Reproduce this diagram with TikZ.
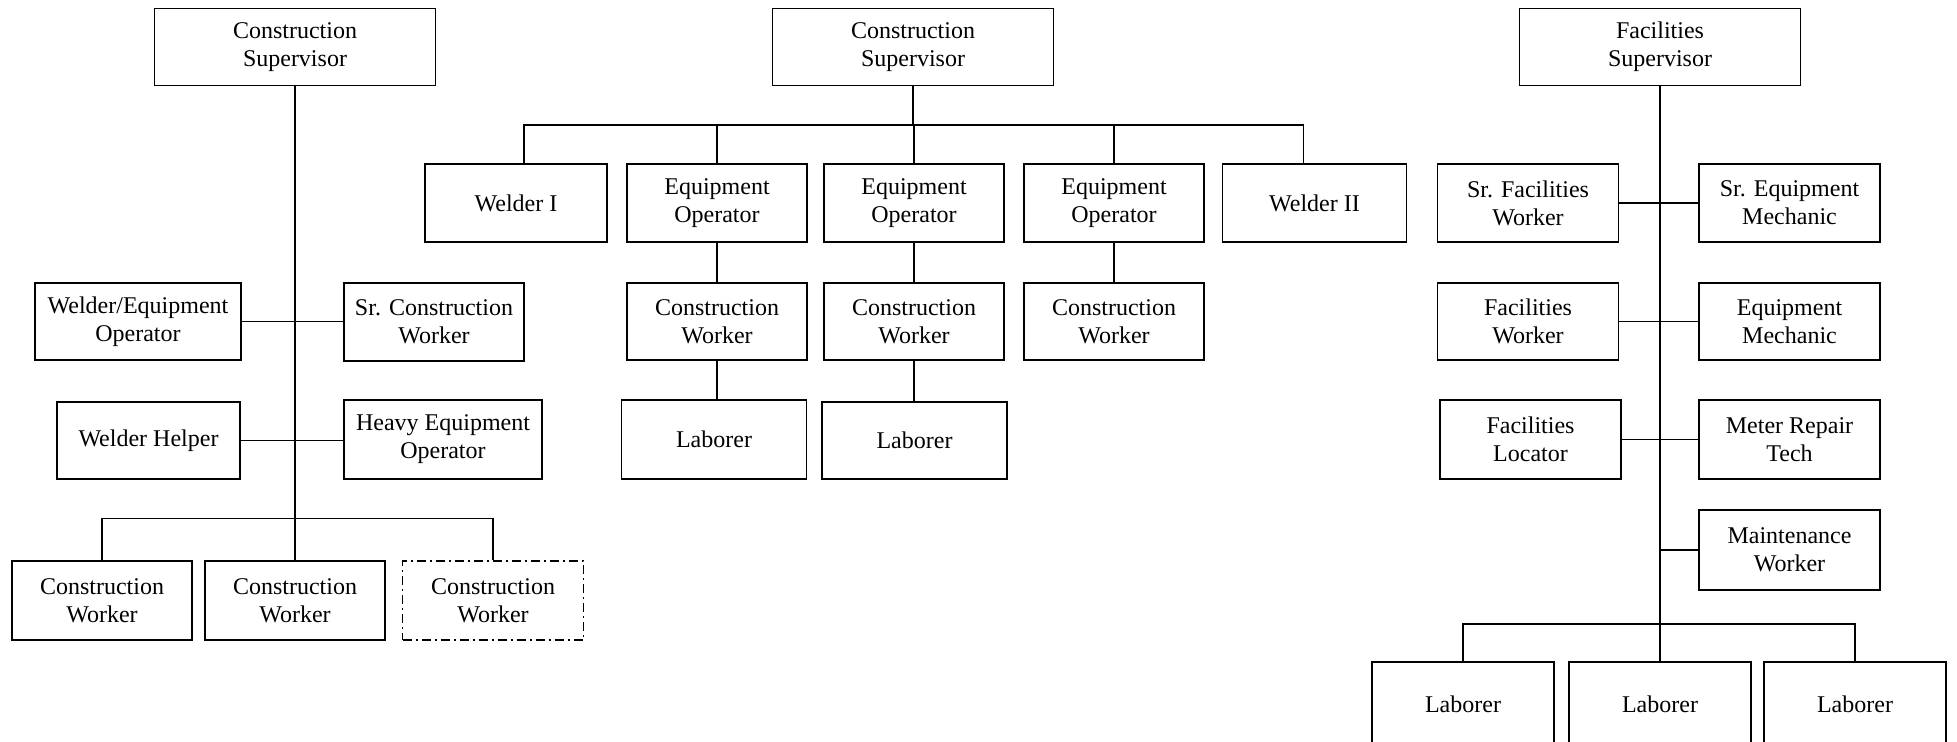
\documentclass[tikz,border=0pt]{standalone}
\usepackage{fontspec}
\setmainfont{Liberation Serif}
\tikzset{
  bx/.style={draw, line width=0.9pt, inner sep=0pt, align=center, fill=white,
             font=\fontsize{12}{14}\selectfont},
  wh/.style 2 args={minimum width=#1*0.5pt, minimum height=#2*0.5pt},
  ln/.style={line width=0.9pt},
  dashdotbox/.style={dash pattern=on 4.5pt off 2pt on 1pt off 2pt}
}
\begin{document}
\begin{tikzpicture}[x=0.5pt, y=-0.5pt]
\useasboundingbox[fill=white] (0,0) rectangle (1957,741);

% ---------- left group ----------
\node[bx, wh={281}{77}] (cs1) at (295,47) {Construction\\Supervisor};
\node[bx, wh={206}{77}] (weo) at (138,321.5) {Welder/Equipment\\Operator};
\node[bx, wh={180}{78}] (scw) at (434,322) {Sr. Construction\\Worker};
\node[bx, wh={183}{77}] (whp) at (148.5,440.5) {Welder Helper};
\node[bx, wh={198}{79}] (heo) at (443,439.5) {Heavy Equipment\\Operator};
\node[bx, wh={180}{79}] (cw1) at (102,600.5) {Construction\\Worker};
\node[bx, wh={180}{79}] (cw2) at (295,600.5) {Construction\\Worker};
\node[bx, dashdotbox, wh={181}{79}] (cw3) at (493,600.5) {Construction\\Worker};
\coordinate (lb) at (295,518.5);

\draw[ln] (cs1.south) -- (cw2.north);
\draw[ln] (weo.east) -- (weo.east -| scw.west);
\draw[ln] (whp.east) -- (whp.east -| heo.west);
\draw[ln] (cw1.north) |- (lb) -| (cw3.north);

% ---------- middle group ----------
\node[bx, wh={281}{77}] (cs2) at (913,47) {Construction\\Supervisor};
\node[bx, wh={182}{78}] (wi) at (516,203) {Welder I};
\node[bx, wh={180}{78}] (eo1) at (717,203) {Equipment\\Operator};
\node[bx, wh={180}{78}] (eo2) at (914,203) {Equipment\\Operator};
\node[bx, wh={180}{78}] (eo3) at (1114,203) {Equipment\\Operator};
\node[bx, wh={184}{78}] (w2) at (1314.5,203) {Welder II};
\node[bx, wh={180}{77}] (cwa) at (717,321.5) {Construction\\Worker};
\node[bx, wh={180}{77}] (cwb) at (914,321.5) {Construction\\Worker};
\node[bx, wh={180}{77}] (cwc) at (1114,321.5) {Construction\\Worker};
\node[bx, wh={185}{79}] (la) at (714,439.5) {Laborer};
\node[bx, wh={185}{77}] (lb2) at (914.5,440.5) {Laborer};
\coordinate (mb) at (913,125);

\draw[ln] (cs2.south) -- (mb);
\draw[ln] ([xshift=4pt]wi.north) |- (mb) -| ([xshift=-5.5pt]w2.north);
\draw[ln] (eo1.north) -- (eo1.north |- mb);
\draw[ln] (eo2.north) -- (eo2.north |- mb);
\draw[ln] (eo3.north) -- (eo3.north |- mb);
\draw[ln] (eo1.south) -- (cwa.north);
\draw[ln] (eo2.south) -- (cwb.north);
\draw[ln] (eo3.south) -- (cwc.north);
\draw[ln] (cwa.south) -- (cwa.south |- la.north);
\draw[ln] (cwb.south) -- (cwb.south |- lb2.north);

% ---------- right group ----------
\node[bx, wh={281}{77}] (fs) at (1660,47) {Facilities\\Supervisor};
\node[bx, wh={181}{78}] (sfw) at (1528,203) {Sr. Facilities\\Worker};
\node[bx, wh={181}{78}] (sem) at (1789.5,203) {Sr. Equipment\\Mechanic};
\node[bx, wh={181}{77}] (fw) at (1528,321.5) {Facilities\\Worker};
\node[bx, wh={181}{77}] (em) at (1789.5,321.5) {Equipment\\Mechanic};
\node[bx, wh={181}{79}] (fl) at (1530.5,439.5) {Facilities\\Locator};
\node[bx, wh={181}{79}] (mrt) at (1789.5,439.5) {Meter Repair\\Tech};
\node[bx, wh={181}{80}] (mw) at (1789.5,550) {Maintenance\\Worker};
\node[bx, wh={182}{84}] (l1) at (1463,704) {Laborer};
\node[bx, wh={182}{84}] (l2) at (1660,704) {Laborer};
\node[bx, wh={182}{84}] (l3) at (1855,704) {Laborer};
\coordinate (rb) at (1660,624);

\draw[ln] (fs.south) -- (l2.north);
\draw[ln] (sfw.east) -- (sem.west);
\draw[ln] (fw.east) -- (em.west);
\draw[ln] (fl.east) -- (mrt.west);
\draw[ln] (mw.west) -- (mw.west -| fs.south);
\draw[ln] (l1.north) |- (rb) -| (l3.north);
\end{tikzpicture}
\end{document}
